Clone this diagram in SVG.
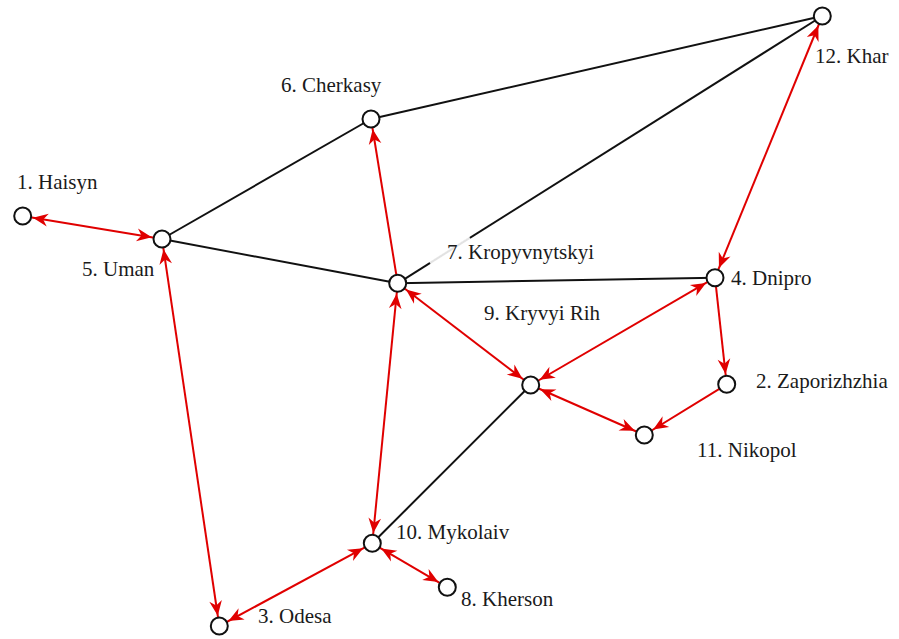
<svg xmlns="http://www.w3.org/2000/svg" width="899" height="639" viewBox="0 0 899 639">
<style>
.blk{stroke:#111;stroke-width:2;fill:none}
.red{stroke:#e00000;stroke-width:2;fill:none}
.both{marker-start:url(#ah);marker-end:url(#ah)}
.end{marker-end:url(#ah)}
.node{fill:#fff;stroke:#111;stroke-width:2}
.lbl{font-family:"Liberation Serif","DejaVu Serif","Noto Serif",serif;font-size:21px;fill:#1a1a1a}
</style>
<defs>
<marker id="ah" markerUnits="userSpaceOnUse" markerWidth="30" markerHeight="20" viewBox="-14 -7 26 14" refX="9" refY="0" orient="auto-start-reverse" overflow="visible">
<path d="M0,0 L-13,-5.5 L-9,0 L-13,5.5 Z" fill="#e00000"/>
</marker>
</defs>
<rect width="899" height="639" fill="#fff"/>
<g id="connectors">
<path class="blk" d="M162,239 L371,119"/>
<path class="blk" d="M371,119 L822.3,16"/>
<path class="blk" d="M162,239 L397.7,283.3"/>
<path class="blk" d="M397.7,283.3 L822.3,16"/>
<path d="M430,263 L470,238" stroke="#fff" stroke-width="3.5" stroke-opacity="0.88" fill="none"/>
<path class="blk" d="M397.7,283.3 L715,277.7"/>
<path class="blk" d="M530.7,385 L372.3,543.3"/>
<path class="red both" d="M22.7,216 L162,239"/>
<path class="red both" d="M162,239 L219.3,626"/>
<path class="red end" d="M397.7,283.3 L371,119"/>
<path class="red both" d="M397.7,283.3 L372.3,543.3"/>
<path class="red both" d="M397.7,283.3 L530.7,385"/>
<path class="red both" d="M715,277.7 L530.7,385"/>
<path class="red both" d="M822.3,16 L715,277.7"/>
<path class="red end" d="M715,277.7 L726.7,384.3"/>
<path class="red end" d="M726.7,384.3 L644.3,435"/>
<path class="red both" d="M530.7,385 L644.3,435"/>
<path class="red both" d="M372.3,543.3 L219.3,626"/>
<path class="red both" d="M372.3,543.3 L447.3,587.3"/>
</g>
<g id="n1"><circle class="node" cx="22.7" cy="216" r="8.5"/><text class="lbl" font-family="Liberation Serif, DejaVu Serif, serif" x="17" y="189">1. Haisyn</text></g>
<g id="n2"><circle class="node" cx="726.7" cy="384.3" r="8.5"/><text class="lbl" font-family="Liberation Serif, DejaVu Serif, serif" x="756" y="388">2. Zaporizhzhia</text></g>
<g id="n3"><circle class="node" cx="219.3" cy="626" r="8.5"/><text class="lbl" font-family="Liberation Serif, DejaVu Serif, serif" x="258" y="623">3. Odesa</text></g>
<g id="n4"><circle class="node" cx="715" cy="277.7" r="8.5"/><text class="lbl" font-family="Liberation Serif, DejaVu Serif, serif" x="731" y="285">4. Dnipro</text></g>
<g id="n5"><circle class="node" cx="162" cy="239" r="8.5"/><text class="lbl" font-family="Liberation Serif, DejaVu Serif, serif" x="82" y="276">5. Uman</text></g>
<g id="n6"><circle class="node" cx="371" cy="119" r="8.5"/><text class="lbl" font-family="Liberation Serif, DejaVu Serif, serif" x="281" y="92">6. Cherkasy</text></g>
<g id="n7"><circle class="node" cx="397.7" cy="283.3" r="8.5"/><text class="lbl" font-family="Liberation Serif, DejaVu Serif, serif" x="447" y="259">7. Kropyvnytskyi</text></g>
<g id="n8"><circle class="node" cx="447.3" cy="587.3" r="8.5"/><text class="lbl" font-family="Liberation Serif, DejaVu Serif, serif" x="461" y="606">8. Kherson</text></g>
<g id="n9"><circle class="node" cx="530.7" cy="385" r="8.5"/><text class="lbl" font-family="Liberation Serif, DejaVu Serif, serif" x="484" y="320">9. Kryvyi Rih</text></g>
<g id="n10"><circle class="node" cx="372.3" cy="543.3" r="8.5"/><text class="lbl" font-family="Liberation Serif, DejaVu Serif, serif" x="396" y="539">10. Mykolaiv</text></g>
<g id="n11"><circle class="node" cx="644.3" cy="435" r="8.5"/><text class="lbl" font-family="Liberation Serif, DejaVu Serif, serif" x="697" y="457">11. Nikopol</text></g>
<g id="n12"><circle class="node" cx="822.3" cy="16" r="8.5"/><text class="lbl" font-family="Liberation Serif, DejaVu Serif, serif" x="815" y="63">12. Khar</text></g>
</svg>
